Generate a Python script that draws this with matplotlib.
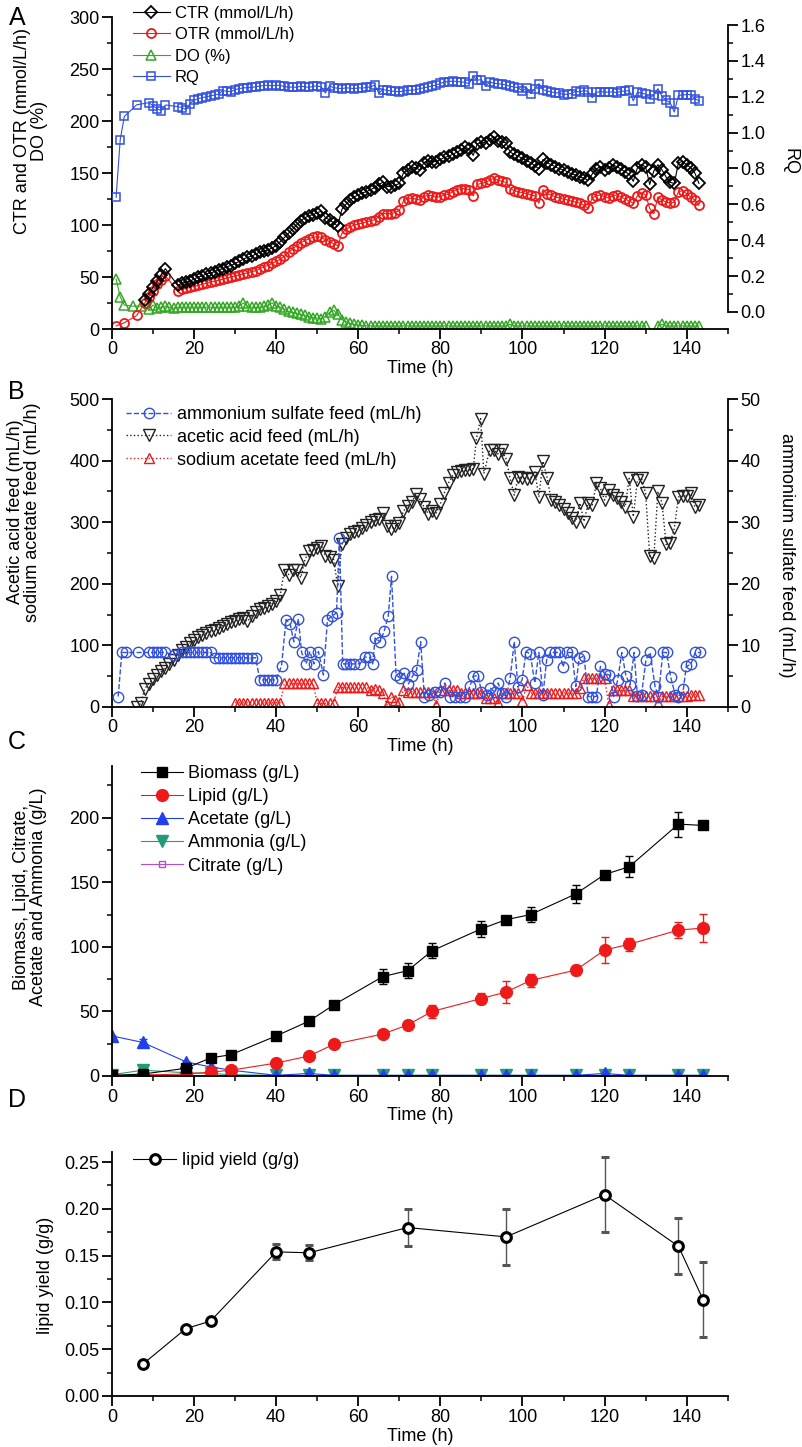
import matplotlib
matplotlib.use("Agg")
import matplotlib.pyplot as plt
from matplotlib.ticker import MultipleLocator

plt.rcParams['font.family'] = ['Liberation Sans', 'DejaVu Sans']

# ---------------------------------------------------------------------------
# Panel A: off-gas data
# ---------------------------------------------------------------------------
hours_a = list(range(16, 144))

ctr_t = [8, 9, 10, 11, 12, 13] + hours_a
ctr = [28, 34, 40, 46, 52, 58,
       42, 44, 45, 46, 48, 50, 51, 53, 54, 55,
       57, 58, 60, 61, 63, 65, 67, 69, 70, 72,
       74, 75, 76, 78, 80, 84, 88, 92, 96, 100,
       104, 107, 109, 110, 112, 113, 107, 105, 102, 99,
       115, 120, 124, 127, 129, 131, 132, 134, 136, 139,
       141, 137, 137, 138, 140, 150, 153, 156, 155, 153,
       160, 162, 161, 161, 163, 165, 166, 168, 170, 172,
       175, 173, 167, 178, 180, 179, 182, 185, 181, 180,
       179, 170, 168, 166, 164, 162, 160, 157, 154, 163,
       160, 158, 156, 154, 153, 151, 149, 148, 146, 145,
       143, 149, 154, 156, 153, 155, 158, 156, 154, 151,
       149, 142, 155, 158, 156, 139, 152, 158, 153, 146,
       141, 140, 160, 161, 158, 155, 150, 140]

otr_t = [1, 3, 6, 8, 9, 10, 11, 12, 13] + hours_a
otr = [3, 6, 13, 25, 31, 37, 43, 47, 51,
       37, 38, 39, 40, 41, 42, 43, 44, 45, 46,
       47, 48, 49, 50, 51, 52, 53, 54, 55, 56,
       58, 60, 61, 63, 65, 67, 70, 74, 77, 80,
       83, 85, 87, 88, 89, 88, 86, 84, 82, 80,
       92, 96, 98, 100, 101, 102, 103, 104, 105, 108,
       111, 111, 111, 112, 114, 123, 125, 126, 125, 124,
       127, 129, 128, 127, 127, 129, 130, 132, 134, 135,
       135, 134, 128, 139, 140, 141, 143, 145, 143, 142,
       141, 135, 133, 132, 131, 130, 129, 128, 121, 134,
       130, 129, 127, 126, 125, 124, 123, 122, 121, 119,
       116, 126, 128, 129, 127, 126, 128, 129, 127, 125,
       123, 121, 128, 131, 129, 116, 111, 127, 124, 122,
       121, 122, 132, 133, 130, 127, 124, 119]

do_t = [1, 2, 3, 5, 7, 9, 10] + list(range(11, 131)) + [131.5] + list(range(133, 144))
do = [48, 31, 23, 22, 22, 19, 23,
      20, 21, 22, 21, 20, 21, 21, 21, 21, 21,
      21, 21, 21, 21, 21, 21, 21, 21, 21, 21,
      22, 25, 22, 21, 21, 21, 22, 23, 25, 22,
      21, 19, 17, 16, 15, 14, 13, 12, 11, 10.5,
      10, 12, 16, 18, 14, 9, 7, 5.5, 4.5, 4,
      3.5, 3.2, 3, 3, 3, 3, 3, 3, 3, 3,
      3, 3, 3, 3, 3, 3, 3, 3, 3, 3,
      3, 3, 3, 3, 3, 3, 3, 3, 3, 3,
      3, 3, 3, 3, 3, 3, 4.5, 3, 3, 3,
      3, 3, 3, 3, 3, 3, 3, 3, 3, 3,
      3, 3, 3, 3, 3, 3, 3, 3, 3, 3,
      3, 3, 3, 3, 3, 3, 3, 3, 3, 3,
      float('nan'),
      3, 4.5, 3, 3, 3, 3, 3, 3, 3, 3, 3]

rq_t = [1, 2, 3, 6, 9, 10, 11, 12, 13] + hours_a
rq = [0.64, 0.96, 1.09, 1.155, 1.167, 1.149, 1.134, 1.122, 1.154,
      1.145, 1.14, 1.128, 1.162, 1.18, 1.19, 1.195, 1.2, 1.205, 1.21,
      1.215, 1.234, 1.23, 1.228, 1.24, 1.245, 1.25, 1.25, 1.252, 1.255,
      1.26, 1.262, 1.265, 1.26, 1.265, 1.262, 1.258, 1.252, 1.255, 1.252,
      1.26, 1.255, 1.252, 1.258, 1.26, 1.255, 1.221, 1.262, 1.25, 1.248,
      1.245, 1.25, 1.248, 1.245, 1.25, 1.248, 1.252, 1.255, 1.265, 1.221,
      1.24, 1.236, 1.232, 1.23, 1.228, 1.232, 1.236, 1.236, 1.24, 1.245,
      1.25, 1.255, 1.26, 1.265, 1.275, 1.282, 1.285, 1.287, 1.285, 1.283,
      1.28, 1.273, 1.314, 1.292, 1.296, 1.258, 1.283, 1.275, 1.273, 1.27,
      1.265, 1.258, 1.255, 1.25, 1.232, 1.25, 1.218, 1.245, 1.273, 1.24,
      1.232, 1.227, 1.222, 1.221, 1.212, 1.215, 1.218, 1.232, 1.225, 1.236,
      1.228, 1.195, 1.225, 1.228, 1.227, 1.225, 1.228, 1.222, 1.232, 1.23,
      1.236, 1.177, 1.225, 1.22, 1.215, 1.19, 1.21, 1.245, 1.203, 1.18,
      1.166, 1.115, 1.208, 1.21, 1.212, 1.212, 1.19, 1.177]

# ---------------------------------------------------------------------------
# Panel B: feeds
# ---------------------------------------------------------------------------
acetic_t = list(range(6, 89)) + [88.8, 89.8, 90.6] + list(range(92, 144))
acetic = [0, 6, 30, 38, 46, 52, 58, 64, 70, 77,
          85, 92, 98, 104, 108, 113, 117, 120, 123, 125,
          129, 132, 135, 138, 140, 143, 144, 139, 148, 155,
          159, 160, 164, 168, 172, 182, 223, 215, 223, 223,
          210, 239, 253, 255, 258, 262, 245, 244, 239, 196,
          264, 275, 281, 284, 286, 290, 296, 300, 303, 305,
          315, 294, 289, 294, 299, 318, 326, 332, 345, 337,
          325, 314, 318, 315, 330, 348, 364, 376, 381, 383,
          384, 385, 387,
          436, 468, 379,
          417, 417, 411, 417, 403, 371, 344, 374, 372, 370,
          372, 382, 341, 399, 372, 336, 332, 328, 322, 315,
          307, 301, 331, 301, 331, 328, 363, 355, 336, 352,
          344, 340, 333, 325, 371, 309, 368, 371, 347, 245,
          242, 350, 331, 264, 266, 290, 341, 342, 343, 347,
          325, 328]

amm_t = [1.5, 2.4, 3.4, 6.4, 9, 10, 11, 12, 13, 15,
         17, 18, 19, 20, 21, 22, 23, 24, 25, 26,
         27, 28, 29, 30, 31, 32, 33, 34, 35, 36,
         37, 38, 39, 40, 41.3, 42.4, 43.4, 44.3, 45.4, 46.2,
         47.3, 48.2, 49.2, 50.3, 51.5, 52.5, 53.5, 54.7, 55.4, 56.2,
         57, 58, 59, 60.4, 61.6, 62.7, 63.5, 64.1, 65.3, 66.3,
         67.3, 68.1, 69.2, 70.2, 71.2, 72.2, 73.2, 74.2, 75.2, 76.1,
         77.3, 78.7, 80, 81.1, 82.3, 83.6, 84.8, 86, 87.2, 88,
         89.2, 90, 91.3, 92.1, 93.3, 94.1, 94.9, 96.1, 97, 98,
         98.9, 99.9, 100.9, 101.9, 103, 104, 105, 105.9, 106.8, 107.9,
         109, 109.9, 110.9, 112, 113, 113.8, 115, 116, 117, 118,
         119, 120, 121.2, 122.2, 123.2, 124.2, 125.2, 126.2, 127.2, 128,
         129, 130.1, 131.1, 132.3, 133.1, 134.2, 135.1, 136.1, 137.2, 138,
         139.2, 139.9, 141, 142.1, 143.3]
amm = [1.7, 8.85, 8.85, 8.85, 8.85, 8.85, 8.85, 8.85, 8.85, 8.5,
       8.85, 8.85, 8.85, 8.85, 8.85, 8.85, 8.85, 8.85, 8.0, 8.0,
       8.0, 8.0, 8.0, 8.0, 8.0, 8.0, 8.0, 8.0, 8.0, 4.4,
       4.4, 4.4, 4.4, 4.4, 6.7, 14.2, 13.5, 10.6, 14.3, 8.85,
       7, 9, 7, 9, 5.2, 14.2, 14.7, 15.3, 27.5, 7,
       7, 7, 7, 7, 8.1, 8.1, 7, 11.2, 10.6, 12.3,
       14.8, 21.2, 5.2, 4.7, 5.5, 3.75, 5, 6, 10.6, 1.7,
       2, 2.4, 2.5, 3.9, 1.7, 1.7, 1.7, 1.7, 3.35, 5,
       5.1, 2.5, 2, 3.1, 2.4, 3.9, 2.3, 1.7, 4.7, 10.6,
       3.2, 4.4, 9, 8.6, 3.9, 8.85, 2, 7.7, 8.85, 8.85,
       8.85, 6.5, 8.85, 8.85, 3.35, 7.9, 8.3, 1.7, 1.7, 1.7,
       6.6, 5.4, 5.2, 1.7, 4.4, 8.85, 5.1, 3.6, 8.85, 1.8,
       2, 7.7, 8.85, 3.35, 1.7, 8.85, 8.85, 4.9, 2, 1.7,
       2.9, 6.6, 6.9, 8.85, 8.85]

sod_t = list(range(30, 144))
sod = [7, 7, 7, 7, 7, 7, 7, 7, 7, 7, 7, 7,
       38.5, 38.5, 38.5, 38.5, 38.5, 38.5, 38.5, 38.5,
       6, 6, 6, 6, 6,
       32, 32, 32, 32, 32, 32, 32, 32,
       28, 30, 27, 22, 3, 17, 12, 8.7, 27.7,
       25, 25, 25, 25, 25, 25, 25,
       3,
       27, 27, 27, 27, 27,
       22.7, 22.7, 22.7, 22.7, 22.7, 22.7,
       14.6, 14.6, 14.6,
       6.5,
       22.7, 22.7, 22.7, 22.7, 22.7,
       9, 36,
       22.7, 22.7, 22.7, 22.7, 22.7, 22.7, 22.7, 22.7, 22.7, 22.7, 22.7, 22.7,
       30.8,
       47, 47, 47, 47, 47, 47,
       3.8,
       27, 27, 27, 27, 27,
       17.3, 17.3, 17.3, 17.3, 17.3, 17.3,
       6.5,
       17.3, 17.3, 17.3, 17.3, 17.3, 17.3, 17.3,
       20, 20, 20]

# ---------------------------------------------------------------------------
# Panel C: broth composition
# ---------------------------------------------------------------------------
c_t = [0, 7.5, 18, 24, 29, 40, 48, 54, 66, 72, 78, 90, 96, 102, 113, 120, 126, 138, 144]
biomass = [0.5, 1.5, 6, 14, 16.5, 31, 42.5, 55, 77, 81.5, 97, 114, 121, 125, 141, 156, 162, 195, 194]
biomass_err = [0, 0, 0.5, 1, 1, 1, 1, 1, 6, 5.8, 6, 6, 2, 6, 7, 2, 8, 9.7, 0]
lipid = [0.3, 0.8, 1.5, 3, 4.5, 10, 15.5, 24.5, 32.5, 39.5, 50, 60, 65, 74, 82, 97.5, 102, 113, 114.5]
lipid_err = [0, 0, 0, 0, 0.5, 1, 1, 1, 1, 1, 4.8, 4, 8.4, 4.8, 4, 10, 5, 6, 10.6]
acetate = [31, 26, 11, 7, 4.5, 0.5, 2, 0.5, 0.5, 0.5, 0.5, 0.5, 0.5, 0.5, 0.5, 2, 0.5, 0.5, 0.5]
acetate_err = [0, 3, 1, 1, 1, 0, 0.5, 0, 0, 0, 0, 0, 0, 0, 0, 0.5, 0, 0, 0]
ammonia = [1, 4.5, 2.5, 2, 1, 0.5, 0.5, 0.5, 0.5, 0.5, 0.5, 0.5, 0.5, 0.5, 0.5, 0.5, 0.5, 0.5, 0.5]
ammonia_err = [0, 1, 0.5, 0.5, 0, 0, 0, 0, 0, 0, 0, 0, 0, 0, 0, 0, 0, 0, 0]
citrate = [0, 0, 0, 0, 0, 0, 0, 0, 0, 0, 0.2, 0.2, 0.2, 0.2, 0.2, 0.2, 0.2, 0.2, 0.2]
c_labels = ['Biomass (g/L)', 'Lipid (g/L)', 'Acetate (g/L)', 'Ammonia (g/L)', 'Citrate (g/L)']

# ---------------------------------------------------------------------------
# Panel D: lipid yield
# ---------------------------------------------------------------------------
d_t = [7.5, 18, 24, 40, 48, 72, 96, 120, 138, 144]
yield_gg = [0.034, 0.072, 0.080, 0.154, 0.153, 0.180, 0.170, 0.215, 0.160, 0.103]
yield_err = [0.003, 0.002, 0.002, 0.008, 0.008, 0.020, 0.030, 0.040, 0.030, 0.040]

x_ticks = [0, 20, 40, 60, 80, 100, 120, 140]
x_ticklabels = ['0', '20', '40', '60', '80', '100', '120', '140']
d_yticks = [0.00, 0.05, 0.10, 0.15, 0.20, 0.25]
d_yticklabels = ['0.00', '0.05', '0.10', '0.15', '0.20', '0.25']

# ---------------------------------------------------------------------------
# Layout helpers (pixel geometry of the 802 x 1447 figure)
# ---------------------------------------------------------------------------
W, H = 802, 1447
NARROW = ['Liberation Sans Narrow', 'Liberation Sans', 'DejaVu Sans']


def px_rect(x0, y0, x1, y1):
    return [x0 / W, 1 - y1 / H, (x1 - x0) / W, (y1 - y0) / H]


def fx(x):
    return x / W


def fy(y):
    return 1 - y / H


def style_axis(ax):
    ax.spines['top'].set_visible(False)
    ax.spines['right'].set_visible(False)
    for s in ('left', 'bottom'):
        ax.spines[s].set_linewidth(1.3)
    ax.tick_params(which='major', direction='out', length=7, width=1.3,
                   labelsize=13, pad=2)
    ax.tick_params(which='minor', direction='out', length=3.5, width=1.1)
    ax.set_xlim(0, 150)
    ax.set_xticks(x_ticks)
    ax.set_xticklabels(x_ticklabels)
    ax.xaxis.set_minor_locator(MultipleLocator(10))


def style_twin(ax2, lo, hi):
    for s in ('top', 'left', 'bottom'):
        ax2.spines[s].set_visible(False)
    ax2.spines['right'].set_linewidth(1.3)
    ax2.spines['right'].set_bounds(lo, hi)
    ax2.tick_params(which='major', direction='out', length=7, width=1.3,
                    labelsize=13, pad=2)
    ax2.tick_params(which='minor', direction='out', length=3.5, width=1.1)


def add_legend(ax, handles, labels, x, y, size, spacing, hlen, family=None):
    prop = {'size': size}
    if family:
        prop['family'] = family
    ax.legend(handles, labels, loc='upper left', bbox_to_anchor=(fx(x), fy(y)),
              bbox_transform=fig.transFigure, frameon=False, prop=prop,
              borderpad=0, borderaxespad=0, handlelength=hlen,
              handletextpad=0.3, labelspacing=spacing)


fig = plt.figure(figsize=(W / 100, H / 100), dpi=100)

RED = '#ee1a1a'
BLUE = '#3150e0'
GREEN = '#33a824'

# ---------------------------------------------------------------- panel A
axA = fig.add_axes(px_rect(112, 17, 727.7, 329))
style_axis(axA)
axA.set_ylim(0, 300)
axA.yaxis.set_major_locator(MultipleLocator(50))
axA.yaxis.set_minor_locator(MultipleLocator(25))
hA_do, = axA.plot(do_t, do, '-^', color=GREEN, lw=0.8, ms=6.5, mfc='none', mew=1.1)
hA_otr, = axA.plot(otr_t, otr, '-o', color=RED, lw=0.8, ms=6.5, mfc='none', mew=1.3)
hA_ctr, = axA.plot(ctr_t, ctr, '-D', color='black', lw=0.8, ms=6, mfc='none', mew=1.3)
axA.set_xlabel('Time (h)', fontsize=13, labelpad=1)

axA2 = axA.twinx()
style_twin(axA2, 0, 1.6)
axA2.set_ylim(-0.0948, 1.6446)
axA2.set_yticks([0.0, 0.2, 0.4, 0.6, 0.8, 1.0, 1.2, 1.4, 1.6])
axA2.yaxis.set_minor_locator(MultipleLocator(0.1))
hA_rq, = axA2.plot(rq_t, rq, '-s', color=BLUE, lw=0.8, ms=5.8, mfc='none', mew=1.1)
add_legend(axA2, [hA_ctr, hA_otr, hA_do, hA_rq],
           ['CTR (mmol/L/h)', 'OTR (mmol/L/h)', 'DO (%)', 'RQ'],
           133, 6, 12, 0.38, 2.2)

fig.text(fx(31), fy(131), 'CTR and OTR (mmol/L/h)\nDO (%)', rotation=90,
         ha='center', va='center', fontsize=13, multialignment='center',
         linespacing=1.0)
fig.text(fx(790), fy(162), 'RQ', rotation=270, ha='center', va='center', fontsize=13)
fig.text(fx(17), fy(18), 'A', ha='center', va='center', fontsize=18)

# ---------------------------------------------------------------- panel B
axB = fig.add_axes(px_rect(112, 399, 727.7, 707))
style_axis(axB)
axB.set_ylim(0, 500)
axB.yaxis.set_major_locator(MultipleLocator(100))
axB.yaxis.set_minor_locator(MultipleLocator(50))
hB_sod, = axB.plot(sod_t, sod, ':^', color=RED, lw=1.0, ms=7.5, mfc='none', mew=1.0)
hB_ace, = axB.plot(acetic_t, acetic, ':v', color='#222222', lw=1.0, ms=8,
                   mfc='none', mew=1.0)
axB.set_xlabel('Time (h)', fontsize=13, labelpad=1)

axB2 = axB.twinx()
style_twin(axB2, 0, 50)
axB2.set_ylim(0, 50)
axB2.yaxis.set_major_locator(MultipleLocator(10))
axB2.yaxis.set_minor_locator(MultipleLocator(5))
hB_amm, = axB2.plot(amm_t, amm, '--o', color=BLUE, lw=1.0, ms=7.5, mfc='none', mew=1.0)
add_legend(axB2, [hB_amm, hB_ace, hB_sod],
           ['ammonium sulfate feed (mL/h)', 'acetic acid feed (mL/h)',
            'sodium acetate feed (mL/h)'],
           126, 406, 13, 0.32, 2.5)

fig.text(fx(24), fy(512), 'Acetic acid feed (mL/h)\nsodium acetate feed (mL/h)',
         rotation=90, ha='center', va='center', fontsize=13, multialignment='center',
         linespacing=1.05)
fig.text(fx(787), fy(555), 'ammonium sulfate feed (mL/h)', rotation=270,
         ha='center', va='center', fontsize=13)
fig.text(fx(16), fy(392), 'B', ha='center', va='center', fontsize=18)

# ---------------------------------------------------------------- panel C
axC = fig.add_axes(px_rect(112, 766, 727.7, 1076))
style_axis(axC)
axC.set_ylim(0, 240)
axC.yaxis.set_major_locator(MultipleLocator(50))
axC.yaxis.set_minor_locator(MultipleLocator(25))
ebk = dict(capsize=3, elinewidth=1.0, capthick=1.0, lw=0.8)
hC_cit = axC.errorbar(c_t, citrate, fmt='-s', color='#b24fd0', ms=5, mfc='none',
                      mew=1.0, **ebk)
hC_amm = axC.errorbar(c_t, ammonia, yerr=ammonia_err, fmt='-v', color='#239a78',
                      ms=8, **ebk)
hC_ace = axC.errorbar(c_t, acetate, yerr=acetate_err, fmt='-^', color='#2040f0',
                      ms=8, **ebk)
hC_lip = axC.errorbar(c_t, lipid, yerr=lipid_err, fmt='-o', color=RED, ms=8.5, **ebk)
hC_bio = axC.errorbar(c_t, biomass, yerr=biomass_err, fmt='-s', color='black',
                      ms=7, **ebk)
axC.set_xlabel('Time (h)', fontsize=13, labelpad=1)
add_legend(axC, [hC_bio[0], hC_lip[0], hC_ace[0], hC_amm[0], hC_cit[0]], c_labels,
           141, 765, 13, 0.34, 2.3)

fig.text(fx(30), fy(897), 'Biomass, Lipid, Citrate,\nAcetate and Ammonia (g/L)',
         rotation=90, ha='center', va='center', fontsize=13, multialignment='center',
         linespacing=1.05)
fig.text(fx(17), fy(742), 'C', ha='center', va='center', fontsize=18)

# ---------------------------------------------------------------- panel D
axD = fig.add_axes(px_rect(112, 1152, 727.7, 1396))
style_axis(axD)
axD.set_xticklabels(x_ticklabels, family=NARROW)
axD.set_ylim(0, 0.2607)
axD.set_yticks(d_yticks)
axD.set_yticklabels(d_yticklabels, family=NARROW)
axD.yaxis.set_minor_locator(MultipleLocator(0.025))
hD = axD.errorbar(d_t, yield_gg, yerr=yield_err, fmt='-o', color='black',
                  ecolor='#555555', ms=7, mfc='white', mew=2.2, lw=0.8,
                  capsize=3, elinewidth=1.0, capthick=1.0)
axD.set_xlabel('Time (h)', fontsize=13, labelpad=2, family=NARROW)
add_legend(axD, [hD[0]], ['lipid yield (g/g)'], 133, 1152, 13, 0.2, 2.4, family=NARROW)

fig.text(fx(45), fy(1275), 'lipid yield (g/g)', rotation=90, ha='center',
         va='center', fontsize=13, family=NARROW)
fig.text(fx(17), fy(1100), 'D', ha='center', va='center', fontsize=18)

fig.savefig('out.png', dpi=100)
